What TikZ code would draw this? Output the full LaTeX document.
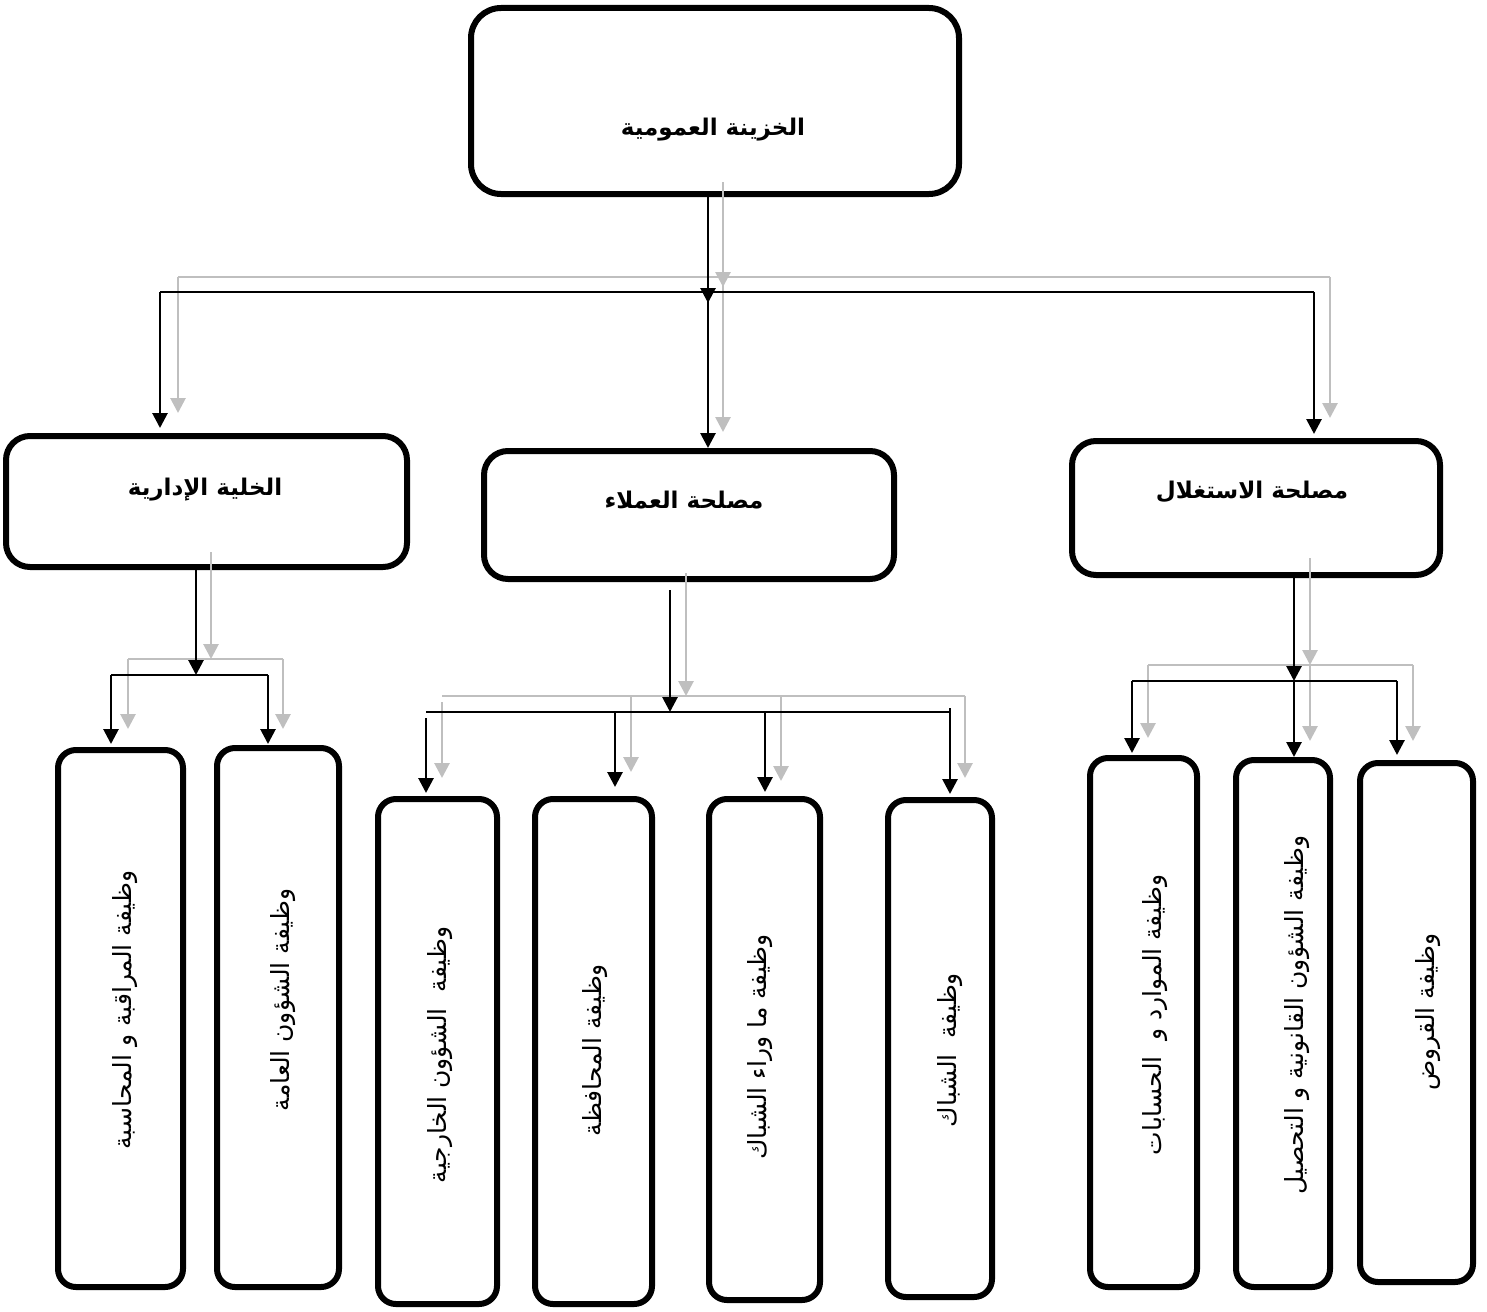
\documentclass[tikz,border=0pt]{standalone}
\usepackage{fontspec}
\newfontfamily\arabicfont[Script=Arabic]{DejaVu Sans}
\TeXXeTstate=1
\usetikzlibrary{arrows.meta,calc}
\definecolor{lgray}{RGB}{191,191,191}
\begin{document}
\begin{tikzpicture}[x=1pt,y=-1pt,
  box/.style={draw,line width=6pt,inner sep=0pt,outer sep=3pt},
  topbox/.style={box,rounded corners=30pt},
  midbox/.style={box,rounded corners=24pt},
  lowbox/.style={box,rounded corners=18pt},
  title/.style={font=\arabicfont\bfseries\fontsize{23}{27}\selectfont},
  vlabel/.style={rotate=90,font=\arabicfont\fontsize{25}{29}\selectfont},
  blk/.style={line width=2.8pt,black},
  gry/.style={line width=2.8pt,lgray},
  arr/.style={-{Triangle[length=15pt,width=15pt]}},
]
\useasboundingbox (0,0) rectangle (1487,1311);
% boxes
\node[topbox,minimum width=488pt,minimum height=186pt] (top) at (715,101) {};
\node[midbox,minimum width=401pt,minimum height=131pt] (la) at (206.5,501.5) {};
\node[midbox,minimum width=410pt,minimum height=128pt] (lb) at (689,515) {};
\node[midbox,minimum width=368pt,minimum height=134pt] (lc) at (1256,508) {};
\node[lowbox,minimum width=125pt,minimum height=537pt] (a1) at (120.5,1018.5) {};
\node[lowbox,minimum width=122pt,minimum height=539pt] (a2) at (278,1017.5) {};
\node[lowbox,minimum width=119pt,minimum height=505pt] (b1) at (437.5,1051.5) {};
\node[lowbox,minimum width=117pt,minimum height=505pt] (b2) at (593.5,1051.5) {};
\node[lowbox,minimum width=111pt,minimum height=501pt] (b3) at (764.5,1049.5) {};
\node[lowbox,minimum width=104pt,minimum height=497pt] (b4) at (940,1048.5) {};
\node[lowbox,minimum width=107pt,minimum height=529pt] (c1) at (1143.5,1022.5) {};
\node[lowbox,minimum width=94pt,minimum height=527pt] (c2) at (1283,1023.5) {};
\node[lowbox,minimum width=113pt,minimum height=519pt] (c3) at (1416.5,1022.5) {};
% labels
\node[title] (ttop) at (713,130) {\beginR الخزينة العمومية\endR};
\node[title] (tla) at (205,490) {\beginR الخلية الإدارية\endR};
\node[title] (tlb) at (684,500) {\beginR مصلحة العملاء\endR};
\node[title] (tlc) at (1252,492) {\beginR مصلحة الاستغلال\endR};
\node[vlabel] (ta1) at (125,1010) {\beginR وظيفة المراقبة و المحاسبة\endR};
\node[vlabel] (ta2) at (283,1000) {\beginR وظيفة الشؤون العامة\endR};
\node[vlabel] (tb1) at (440,1055) {\beginR وظيفة\ \ الشؤون الخارجية\endR};
\node[vlabel] (tb2) at (595,1050) {\beginR وظيفة المحافظة\endR};
\node[vlabel] (tb3) at (760,1047) {\beginR وظيفة ما وراء الشباك\endR};
\node[vlabel] (tb4) at (950,1050) {\beginR وظيفة\ \ الشباك\endR};
\node[vlabel] (tc1) at (1155,1015) {\beginR وظيفة الموارد و\ \ الحسابات\endR};
\node[vlabel] (tc2) at (1297,1015) {\beginR وظيفة الشؤون القانونية و التحصيل\endR};
\node[vlabel] (tc3) at (1428,1012) {\beginR وظيفة القروض\endR};
% bus coordinates
\coordinate (tb) at (708,292);
\coordinate (tg) at (723,277);
\coordinate (ab) at (196,675);
\coordinate (ag) at (211,659);
\coordinate (bb) at (670,712);
\coordinate (bg) at (686,696);
\coordinate (cb) at (1294,681);
\coordinate (cg) at (1310,665);
% ---------- gray connectors ----------
\draw[gry] (178,277) -- (1330,277);
\draw[gry,arr] (tg |- top.south) ++(0,-15) -- ($(tg)+(0,10)$);
\draw[gry,arr] (tg) -- ($(tg |- lb.north)+(0,-16)$);
\draw[gry,arr] (178,277) -- ($(la.north -| 178,0)+(0,-20)$);
\draw[gry,arr] (1330,277) -- ($(lc.north -| 1330,0)+(0,-20)$);
% left group
\draw[gry] (128,659) -- (283,659);
\draw[gry,arr] ($(ag |- la.south)+(0,-18)$) -- (ag);
\draw[gry,arr] (128,659) -- ($(a1.north -| 128,0)+(0,-18)$);
\draw[gry,arr] (283,659) -- ($(a2.north -| 283,0)+(0,-16)$);
% middle group
\draw[gry] (442,696) -- (965,696);
\draw[gry,arr] ($(bg |- lb.south)+(0,-9)$) -- (bg);
\draw[gry,arr] (442,702) -- ($(b1.north -| 442,0)+(0,-18)$);
\draw[gry,arr] (631,696) -- ($(b2.north -| 631,0)+(0,-24)$);
\draw[gry,arr] (781,696) -- ($(b3.north -| 781,0)+(0,-15)$);
\draw[gry,arr] (965,696) -- ($(b4.north -| 965,0)+(0,-19)$);
% right group
\draw[gry] (1148,665) -- (1413,665);
\draw[gry,arr] ($(cg |- lc.south)+(0,-20)$) -- (cg);
\draw[gry,arr] (cg) -- ($(cg |- c2.north)+(0,-16)$);
\draw[gry,arr] (1148,665) -- ($(c1.north -| 1148,0)+(0,-17)$);
\draw[gry,arr] (1413,665) -- ($(c3.north -| 1413,0)+(0,-19)$);
% ---------- black connectors ----------
\draw[blk] (160,292) -- (1314,292);
\draw[blk,arr] (tb |- top.south) -- ($(tb)+(0,11)$);
\draw[blk,arr] (tb) -- (tb |- lb.north);
\draw[blk,arr] (160,292) -- ($(la.north -| 160,0)+(0,-5)$);
\draw[blk,arr] (1314,292) -- ($(lc.north -| 1314,0)+(0,-4)$);
% left group
\draw[blk] (111,675) -- (268,675);
\draw[blk,arr] (ab |- la.south) -- (ab);
\draw[blk,arr] (111,675) -- ($(a1.north -| 111,0)+(0,-3)$);
\draw[blk,arr] (268,675) -- ($(a2.north -| 268,0)+(0,-1)$);
% middle group
\draw[blk] (426,712) -- (950,712);
\draw[blk,arr] ($(bb |- lb.south)+(0,8)$) -- (bb);
\draw[blk,arr] (426,718) -- ($(b1.north -| 426,0)+(0,-3)$);
\draw[blk,arr] (615,712) -- ($(b2.north -| 615,0)+(0,-9)$);
\draw[blk,arr] (765,712) -- ($(b3.north -| 765,0)+(0,-4)$);
\draw[blk,arr] (950,708) -- ($(b4.north -| 950,0)+(0,-3)$);
% right group
\draw[blk] (1132,681) -- (1397,681);
\draw[blk,arr] (cb |- lc.south) -- (cb);
\draw[blk,arr] (cb) -- (cb |- c2.north);
\draw[blk,arr] (1132,681) -- ($(c1.north -| 1132,0)+(0,-2)$);
\draw[blk,arr] (1397,681) -- ($(c3.north -| 1397,0)+(0,-5)$);
\end{tikzpicture}
\end{document}
